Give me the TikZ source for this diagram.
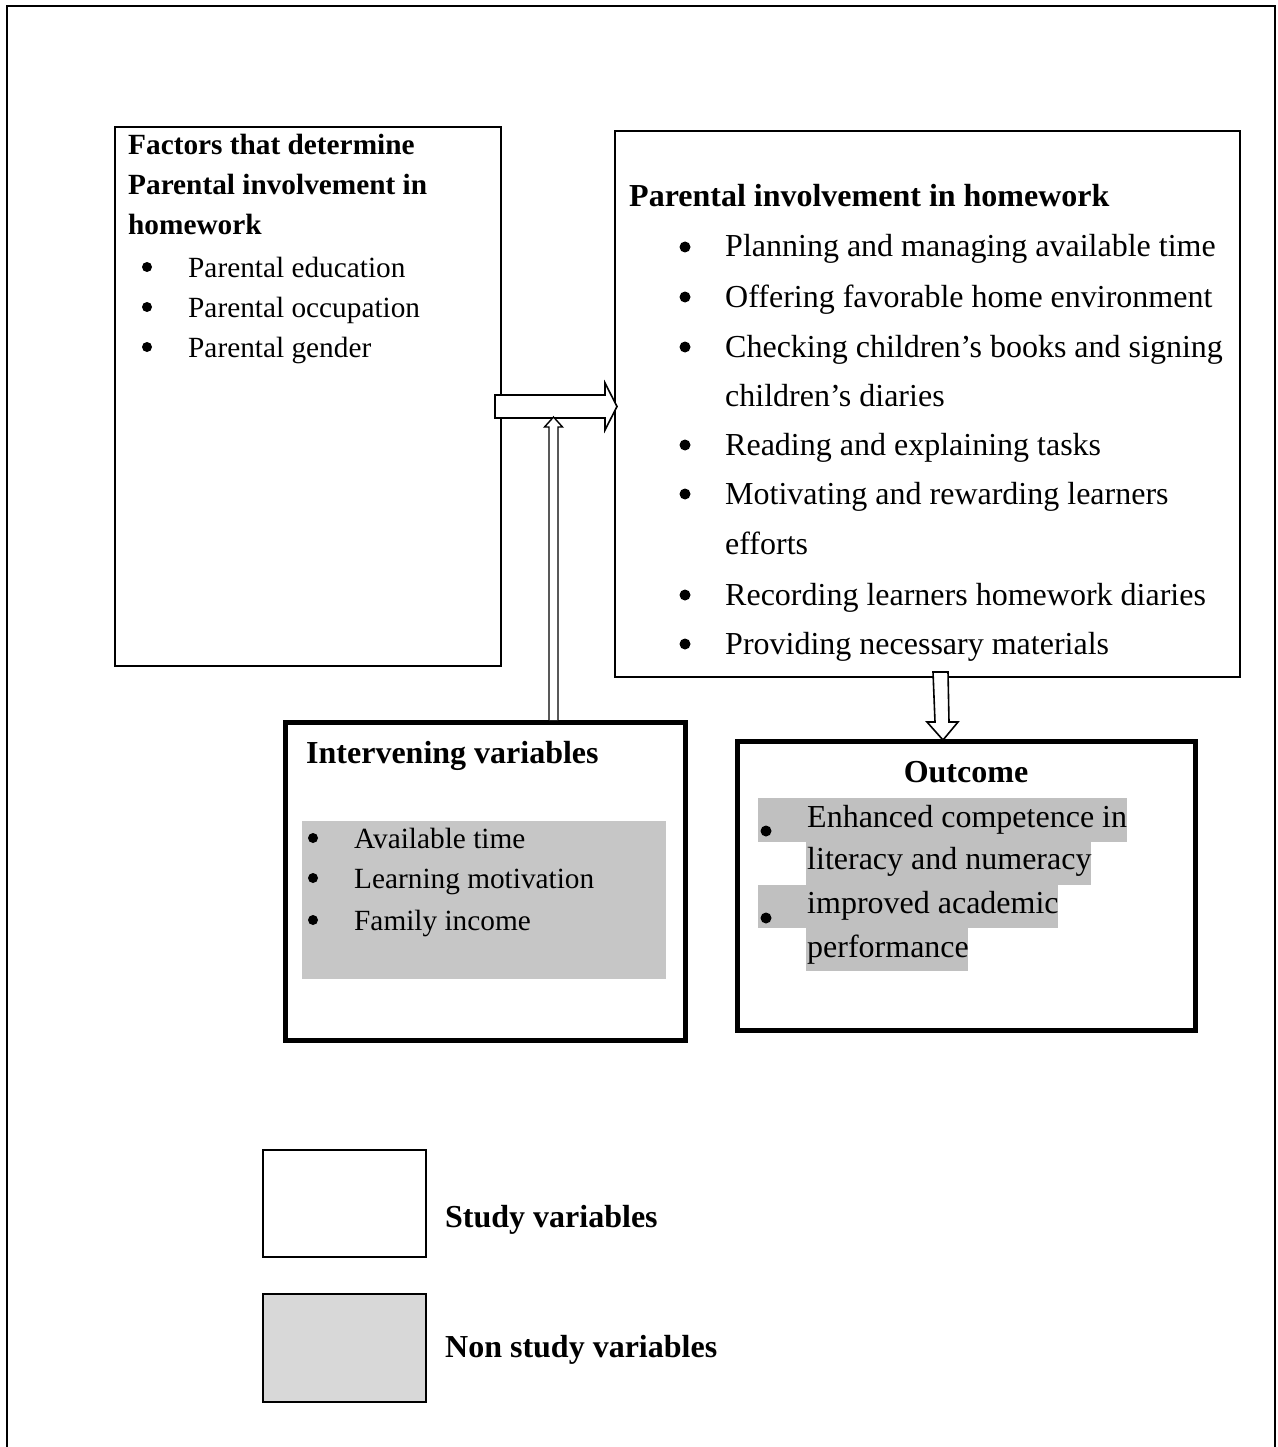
\documentclass[tikz,border=0pt]{standalone}
\usepackage{fontspec}
\setmainfont{Liberation Serif}
\begin{document}
\begin{tikzpicture}[x=1pt,y=-1pt,
  thinbox/.style={draw, line width=2pt, inner sep=0pt, outer sep=0pt},
  thickbox/.style={draw, line width=5pt, inner sep=0pt, outer sep=0pt},
  legbox/.style={draw, line width=1.6pt, inner sep=0pt, outer sep=0pt},
  big/.style={anchor=base west, inner sep=0pt, font=\fontsize{32}{38}\selectfont},
  small/.style={anchor=base west, inner sep=0pt, font=\fontsize{29.3}{35}\selectfont},
  bighd/.style={anchor=base west, inner sep=0pt, font=\fontsize{32}{38}\selectfont\bfseries},
  smallhd/.style={anchor=base west, inner sep=0pt, font=\fontsize{29.3}{35}\selectfont\bfseries},
  blockarrow/.style={draw, fill=white, line width=1.6pt, line join=miter},
  hilite/.style={fill=hl, draw=none}
]
\definecolor{hl}{HTML}{C0C0C0}
\definecolor{ivfill}{HTML}{C6C6C6}
\definecolor{legfill}{HTML}{D8D8D8}
\useasboundingbox (0,0) rectangle (1277,1447);
% outer frame
\draw[line width=2pt] (7,1460) -- (7,6) -- (1275,6) -- (1275,1460);

% boxes
\node[thinbox, minimum width=386pt, minimum height=539pt] (fac) at (308,396.5) {};
\node[thinbox, minimum width=625pt, minimum height=545pt] (pih) at (927.5,404) {};
\node[thickbox, minimum width=400pt, minimum height=318pt] (iv) at (485,881) {};
\node[thickbox, minimum width=458pt, minimum height=289pt] (out) at (966,885.5) {};
\node[legbox, minimum width=163pt, minimum height=107pt] (leg1) at (344.5,1203.5) {};
\node[legbox, fill=legfill, minimum width=163pt, minimum height=108pt] (leg2) at (344.5,1348) {};

% box 1 text
\node[smallhd] (f1) at (128,155) {Factors that determine};
\node[smallhd] (f2) at (128,195) {Parental involvement in};
\node[smallhd] (f3) at (128,235) {homework};
\fill (147,267) circle[radius=5pt];
\node[small] (f4) at (188,277) {Parental education};
\fill (147,307) circle[radius=5pt];
\node[small] (f5) at (188,317) {Parental occupation};
\fill (147,347) circle[radius=5pt];
\node[small] (f6) at (188,357) {Parental gender};

% box 2 text
\node[bighd] (p0) at (629,207) {Parental involvement in homework};
\fill (685,247) circle[radius=5.5pt];
\node[big] (p1) at (725,257) {Planning and managing available time};
\fill (685,297) circle[radius=5.5pt];
\node[big] (p2) at (725,307) {Offering favorable home environment};
\fill (685,347) circle[radius=5.5pt];
\node[big] (p3) at (725,357) {Checking children’s books and signing};
\node[big] (p3b) at (725,406) {children’s diaries};
\fill (685,445) circle[radius=5.5pt];
\node[big] (p4) at (725,455) {Reading and explaining tasks};
\fill (685,494) circle[radius=5.5pt];
\node[big] (p5) at (725,504) {Motivating and rewarding learners};
\node[big] (p5b) at (725,554) {efforts};
\fill (685,595) circle[radius=5.5pt];
\node[big] (p6) at (725,605) {Recording learners homework diaries};
\fill (685,644) circle[radius=5.5pt];
\node[big] (p7) at (725,654) {Providing necessary materials};

% box 3 text
\fill[ivfill] (302,821) rectangle (666,979);
\node[bighd] (i0) at (306,763) {Intervening variables};
\fill (313,838) circle[radius=5pt];
\node[small] (i1) at (354,848) {Available time};
\fill (313,878) circle[radius=5pt];
\node[small] (i2) at (354,888) {Learning motivation};
\fill (313,920) circle[radius=5pt];
\node[small] (i3) at (354,930) {Family income};

% box 4 text
\fill[hilite] (758,798) rectangle (1127,842);
\fill[hilite] (806,842) rectangle (1091,885);
\fill[hilite] (758,885) rectangle (1058,928);
\fill[hilite] (806,928) rectangle (968,971);
\node[bighd, anchor=base] (o0) at (966,782) {Outcome};
\fill (766,831) circle[radius=5.5pt];
\node[big] (o1) at (807,827) {Enhanced competence in};
\node[big] (o1b) at (807,869) {literacy and numeracy};
\fill (766,918) circle[radius=5.5pt];
\node[big] (o2) at (807,913) {improved academic};
\node[big] (o2b) at (807,957) {performance};

% legend text
\node[bighd] (l1) at (445,1227) {Study variables};
\node[bighd] (l2) at (445,1357) {Non study variables};

% arrows
\draw[blockarrow] (495,395) -- (605,395) -- (605,383) -- (617,406.5) -- (605,430) -- (605,418) -- (495,418) -- cycle;
\draw[blockarrow, line width=1.4pt] (549,720) -- (549,427) -- (544.5,427) -- (553.5,417) -- (562.5,427) -- (558,427) -- (558,720);
\draw[blockarrow] (933,672) -- (948,672) -- (949,722) -- (958,722) -- (943,740) -- (927,722) -- (935,722) -- cycle;
\end{tikzpicture}
\end{document}
